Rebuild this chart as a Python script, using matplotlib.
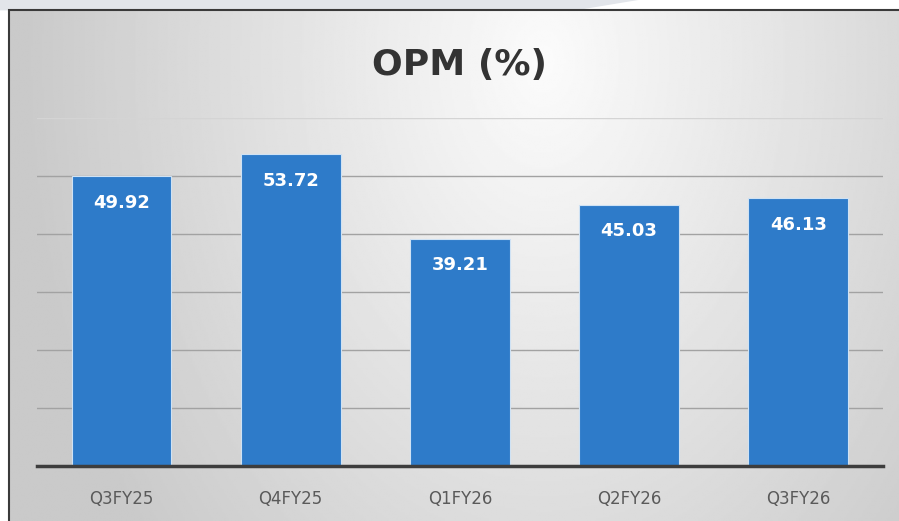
import numpy as np
import matplotlib.pyplot as plt
from matplotlib.patches import Rectangle, Polygon

quarters = ['Q3FY25', 'Q4FY25', 'Q1FY26', 'Q2FY26', 'Q3FY26']
opm = [49.92, 53.72, 39.21, 45.03, 46.13]

fig = plt.figure(figsize=(8.99, 5.21), dpi=100)
fig.patch.set_facecolor('white')

# light slanted strip above the frame
fig.patches.append(Polygon([[0, 1], [0.71, 1], [0.64, 0.98], [0, 0.98]],
                           closed=True, transform=fig.transFigure,
                           facecolor='#e2e5ea', edgecolor='none', zorder=0))

# soft grey gradient inside the frame
bg = fig.add_axes([0.01, 0.0, 0.99, 0.981], zorder=0)
yy, xx = np.mgrid[0:1:300j, 0:1:500j]
r = np.sqrt(((xx - 0.6) / 0.6) ** 2 + ((yy - 0.1) / 1.5) ** 2)
shade = np.clip(0.985 - 0.2 * r, 0.79, 1)
bg.imshow(shade, cmap='gray', vmin=0, vmax=1,
          aspect='auto', extent=[0, 1, 0, 1], origin='upper')
bg.set_axis_off()
fig.patches.append(Rectangle((0.01, -0.01), 1.0, 0.991, transform=fig.transFigure,
                             fill=False, edgecolor='#3a3a3a', linewidth=1.5, zorder=5))

ax = fig.add_axes([0.041, 0.1056, 0.941, 0.668], zorder=1)
ax.patch.set_alpha(0)

x = np.arange(len(quarters))
ax.bar(x, opm, width=0.59, color='#2e7bc9', edgecolor='#cfe2f4',
       linewidth=0.8, zorder=3)
for xi, v in zip(x, opm):
    ax.annotate(f'{v:.2f}', (xi, v), xytext=(0, -19), textcoords='offset points',
                ha='center', va='center', color='white', fontsize=13,
                fontweight='bold', zorder=4)

ax.set_xlim(-0.5, len(quarters) - 0.5)
ax.set_ylim(0, 60)
ax.set_yticks([10, 20, 30, 40, 50, 60])
ax.yaxis.grid(True, color='#a2a2a2', linewidth=1, zorder=0)
ax.get_ygridlines()[-1].set_color('#d4d4d4')
ax.set_axisbelow(True)
ax.tick_params(axis='y', left=False, labelleft=False)
ax.set_xticks(x)
ax.set_xticklabels(quarters, fontsize=12, color='#5a5a5a')
ax.tick_params(axis='x', length=0, pad=17)
for s in ['top', 'right', 'left']:
    ax.spines[s].set_visible(False)
ax.spines['bottom'].set_color('#3d3d3d')
ax.spines['bottom'].set_linewidth(2.5)
ax.spines['bottom'].set_zorder(5)

fig.text(0.511, 0.875, 'OPM (%)', ha='center', va='center',
         fontsize=26, fontweight='bold', color='#333333')

fig.savefig('out.png', dpi=100)
